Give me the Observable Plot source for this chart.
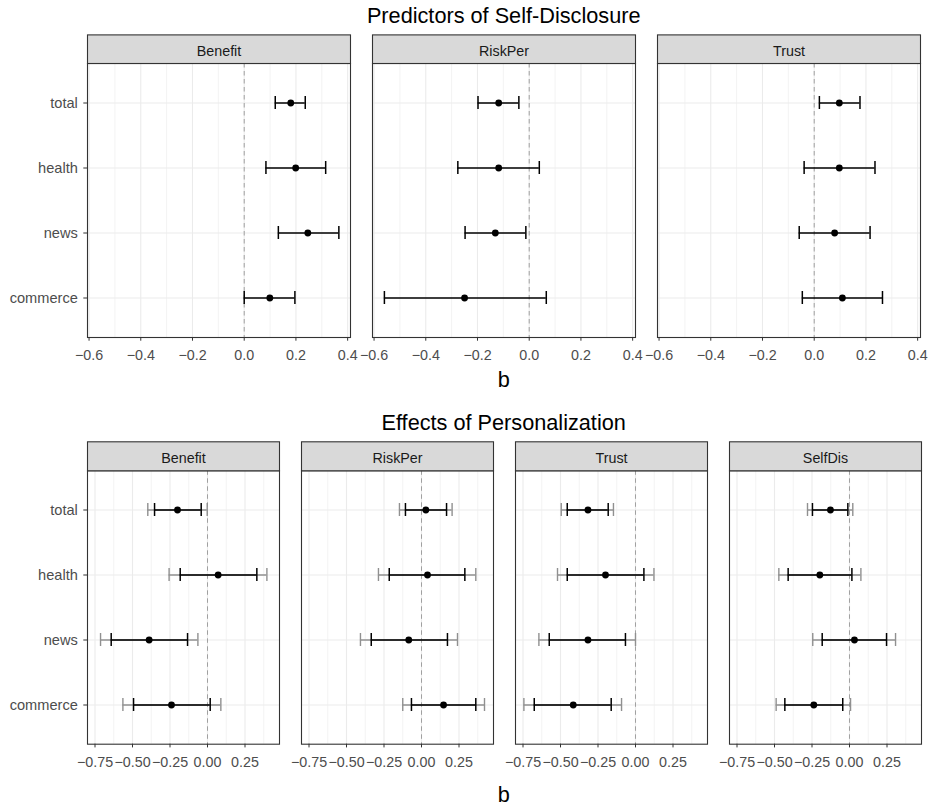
<!DOCTYPE html>
<html>
<head>
<meta charset="utf-8">
<script src="https://cdn.jsdelivr.net/npm/d3@7"></script>
<script src="https://cdn.jsdelivr.net/npm/@observablehq/plot@0.6"></script>
<style>
  html, body { margin: 0; padding: 0; background: #fff; }
  #wrap { position: relative; width: 931px; height: 807px; background: #fff; font-family: "Liberation Sans", Arial, sans-serif; overflow: hidden; }
  .ttl { position: absolute; left: 85.7px; width: 836px; text-align: center; font-size: 21.7px; line-height: 21.7px; color: #000; white-space: nowrap; }
  .plot { position: absolute; left: 0; }
</style>
</head>
<body>
<div id="wrap">
  <div class="ttl" id="t1" style="top:4.9px">Predictors of Self-Disclosure</div>
  <div class="plot" id="p1" style="top:30px"></div>
  <div class="ttl" id="b1" style="top:368.6px">b</div>
  <div class="ttl" id="t2" style="top:411.6px">Effects of Personalization</div>
  <div class="plot" id="p2" style="top:436px"></div>
  <div class="ttl" id="b2" style="top:783.6px">b</div>
</div>
<script>
// ---------- data ----------
const categories = ["total", "health", "news", "commerce"];

// Top: Predictors of Self-Disclosure
const topPanels = ["Benefit", "RiskPer", "Trust"];
const topEstimate = [
  [0.180, 0.199, 0.246, 0.099],     // Benefit
  [-0.118, -0.118, -0.131, -0.250], // RiskPer
  [0.097, 0.097, 0.079, 0.109]      // Trust
];
const topLow = [
  [0.120, 0.084, 0.132, 0.000],
  [-0.198, -0.276, -0.248, -0.560],
  [0.020, -0.039, -0.058, -0.046]
];
const topHigh = [
  [0.236, 0.315, 0.366, 0.196],
  [-0.040, 0.039, -0.013, 0.066],
  [0.177, 0.235, 0.216, 0.264]
];
const topTicks = [-0.6, -0.4, -0.2, 0.0, 0.2, 0.4];
const topMinorTicks = [-0.5, -0.3, -0.1, 0.1, 0.3];

// Bottom: Effects of Personalization
const bottomPanels = ["Benefit", "RiskPer", "Trust", "SelfDis"];
const bottomEstimate = [
  [-0.200, 0.071, -0.389, -0.240],
  [0.029, 0.040, -0.085, 0.147],
  [-0.317, -0.200, -0.317, -0.415],
  [-0.127, -0.198, 0.033, -0.238]
];
const bottomInnerLow = [
  [-0.353, -0.182, -0.642, -0.493],
  [-0.107, -0.215, -0.335, -0.067],
  [-0.455, -0.455, -0.575, -0.675],
  [-0.247, -0.409, -0.182, -0.431]
];
const bottomInnerHigh = [
  [-0.042, 0.329, -0.133, 0.018],
  [0.167, 0.289, 0.173, 0.362],
  [-0.182, 0.056, -0.067, -0.162],
  [-0.011, 0.016, 0.247, -0.045]
];
const bottomOuterLow = [
  [-0.398, -0.256, -0.713, -0.564],
  [-0.147, -0.287, -0.407, -0.125],
  [-0.495, -0.520, -0.644, -0.744],
  [-0.280, -0.471, -0.245, -0.489]
];
const bottomOuterHigh = [
  [-0.002, 0.396, -0.064, 0.089],
  [0.204, 0.362, 0.240, 0.420],
  [-0.147, 0.123, 0.000, -0.093],
  [0.022, 0.076, 0.307, 0.007]
];
const bottomTicks = [-0.75, -0.5, -0.25, 0.0, 0.25];
const bottomMinorTicks = [-0.625, -0.375, -0.125, 0.125, 0.375];

// ---------- build rows ----------
function rowsFrom(panels, est, lo, hi, olo, ohi) {
  const out = [];
  panels.forEach((p, i) => categories.forEach((c, j) => {
    out.push({panel: p, cat: c, est: est[i][j], lo: lo[i][j], hi: hi[i][j],
      olo: olo ? olo[i][j] : null, ohi: ohi ? ohi[i][j] : null});
  }));
  return out;
}
const topRows = rowsFrom(topPanels, topEstimate, topLow, topHigh);
const bottomRows = rowsFrom(bottomPanels, bottomEstimate, bottomInnerLow, bottomInnerHigh, bottomOuterLow, bottomOuterHigh);

const FONT = "'Liberation Sans', Arial, sans-serif";
const GRID = "#ebebeb";
const BORDER = "#333333";

function panelPlot({rows, panels, domain, ticks, minor, fmt, height, marginTop, marginBottom, stripH, padInner, outer}) {
  const frameH = height - marginTop - marginBottom;
  const marks = [
    Plot.ruleX(minor, {stroke: GRID, strokeWidth: 0.6}),
    Plot.ruleX(ticks, {stroke: GRID, strokeWidth: 1.1}),
    Plot.ruleY(categories, {stroke: GRID, strokeWidth: 1.1}),
    Plot.ruleX([0], {stroke: "#a0a0a0", strokeWidth: 1, strokeDasharray: "4.5,3.5"})
  ];
  if (outer) {
    marks.push(
      Plot.ruleY(rows, {fx: "panel", y: "cat", x1: "olo", x2: "ohi", stroke: "#909090", strokeWidth: 1.4}),
      Plot.tickX(rows, {fx: "panel", y: "cat", x: "olo", stroke: "#909090", strokeWidth: 1.4}),
      Plot.tickX(rows, {fx: "panel", y: "cat", x: "ohi", stroke: "#909090", strokeWidth: 1.4})
    );
  }
  marks.push(
    Plot.ruleY(rows, {fx: "panel", y: "cat", x1: "lo", x2: "hi", stroke: "#000", strokeWidth: 1.5}),
    Plot.tickX(rows, {fx: "panel", y: "cat", x: "lo", stroke: "#000", strokeWidth: 1.5}),
    Plot.tickX(rows, {fx: "panel", y: "cat", x: "hi", stroke: "#000", strokeWidth: 1.5}),
    Plot.dot(rows, {fx: "panel", y: "cat", x: "est", r: 3.4, fill: "#000", stroke: "none"}),
    Plot.frame({stroke: BORDER, strokeWidth: 1.1, fill: "none"}),
    Plot.frame({fill: "#d9d9d9", stroke: BORDER, strokeWidth: 1.1, insetTop: -stripH, insetBottom: frameH}),
    Plot.axisFx({anchor: "top", label: null, tickSize: 0, tickPadding: 7.5, fill: "#1a1a1a", fontSize: 14.3}),
    Plot.axisX(ticks, {anchor: "bottom", label: null, tickSize: 3.7, tickPadding: 8.5, stroke: BORDER, fill: "#4d4d4d", tickFormat: fmt, fontSize: 14.3}),
    Plot.axisY({anchor: "left", label: null, tickSize: 3.7, tickPadding: 6, stroke: BORDER, fill: "#4d4d4d", fontSize: 14.6})
  );
  return Plot.plot({
    width: 931, height, marginTop, marginBottom, marginLeft: 85.7, marginRight: 9.3,
    style: {fontFamily: FONT, fontSize: "14.3px", background: "transparent", color: "#4d4d4d"},
    x: {domain},
    y: {type: "band", domain: categories, paddingInner: 0.8, paddingOuter: 0.5},
    fx: {domain: panels, paddingInner: padInner, paddingOuter: 0},
    marks
  });
}

document.getElementById("p1").append(panelPlot({
  rows: topRows, panels: topPanels, domain: [-0.606, 0.411],
  ticks: topTicks, minor: topMinorTicks, fmt: d3.format(".1f"),
  height: 335, marginTop: 33, marginBottom: 28, stripH: 28.6, padInner: 0.0769, outer: false
}));
document.getElementById("p2").append(panelPlot({
  rows: bottomRows, panels: bottomPanels, domain: [-0.8, 0.48],
  ticks: bottomTicks, minor: bottomMinorTicks, fmt: d3.format(".2f"),
  height: 336, marginTop: 34.3, marginBottom: 28.3, stripH: 29, padInner: 0.1026, outer: true
}));
</script>
</body>
</html>
